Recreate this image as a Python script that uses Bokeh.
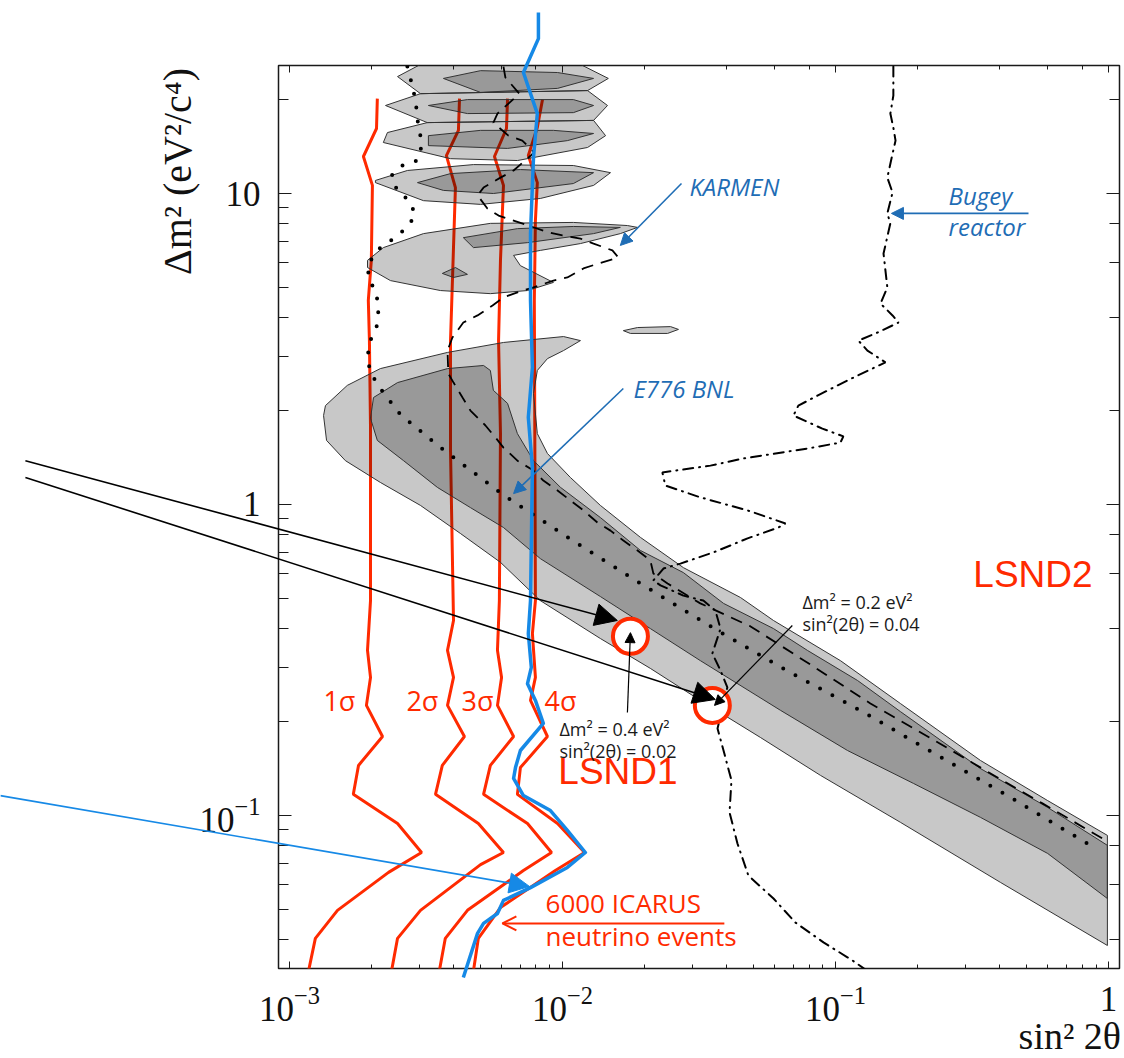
import numpy as np
from bokeh.plotting import figure
from bokeh.models import Range1d, LogAxis, LogTicker, Label, Arrow, NormalHead, OpenHead
from bokeh.embed import file_html
from bokeh.resources import INLINE

# ---------------- data: (log10 sin^2 2theta, log10 dm^2) -------------
sigma1 = [(-2.678, 1.305), (-2.681, 1.209), (-2.729, 1.119), (-2.696, 1.026), (-2.700, 0.785),
          (-2.711, 0.656), (-2.707, 0.527), (-2.703, 0.248), (-2.703, -0.309), (-2.714, -0.469),
          (-2.703, -0.556), (-2.718, -0.646), (-2.659, -0.746), (-2.747, -0.839), (-2.766, -0.932),
          (-2.604, -1.026), (-2.516, -1.119), (-2.637, -1.183), (-2.824, -1.305), (-2.905, -1.395),
          (-2.930, -1.50)]
sigma2 = [(-2.377, 1.305), (-2.381, 1.203), (-2.425, 1.122), (-2.392, 1.019), (-2.410, 0.527),
          (-2.410, 0.174), (-2.399, -0.373), (-2.421, -0.469), (-2.399, -0.556), (-2.421, -0.646),
          (-2.359, -0.746), (-2.440, -0.839), (-2.465, -0.932), (-2.308, -1.026), (-2.216, -1.119),
          (-2.300, -1.158), (-2.520, -1.305), (-2.604, -1.395), (-2.626, -1.50)]
sigma3 = [(-2.201, 1.305), (-2.205, 1.209), (-2.249, 1.119), (-2.216, 1.026), (-2.227, 0.785),
          (-2.234, 0.527), (-2.227, 0.228), (-2.231, -0.309), (-2.238, -0.469), (-2.223, -0.556),
          (-2.238, -0.646), (-2.179, -0.746), (-2.264, -0.839), (-2.289, -0.932), (-2.128, -1.026),
          (-2.040, -1.119), (-2.143, -1.177), (-2.348, -1.305), (-2.429, -1.395), (-2.451, -1.50)]
sigma4 = [(-2.073, 1.302), (-2.092, 1.212), (-2.125, 1.122), (-2.092, 1.035), (-2.099, 0.913),
          (-2.103, 0.656), (-2.099, -0.309), (-2.110, -0.415), (-2.099, -0.556), (-2.117, -0.630),
          (-2.055, -0.746), (-2.154, -0.846), (-2.165, -0.932), (-2.018, -1.026), (-1.919, -1.119),
          (-2.026, -1.177), (-2.227, -1.296), (-2.308, -1.395), (-2.326, -1.50)]
icarus_6000 = [(-2.088, 1.582), (-2.088, 1.498), (-2.143, 1.389), (-2.092, 1.257), (-2.106, 1.116),
               (-2.117, 0.871), (-2.117, 0.656), (-2.110, 0.441), (-2.125, 0.280), (-2.110, 0.119),
               (-2.117, -0.309), (-2.125, -0.415), (-2.114, -0.524), (-2.128, -0.576), (-2.099, -0.630),
               (-2.070, -0.704), (-2.154, -0.791), (-2.172, -0.846), (-2.179, -0.881), (-2.143, -0.936),
               (-2.044, -0.984), (-1.982, -1.048), (-1.916, -1.119), (-1.982, -1.167), (-2.117, -1.232),
               (-2.216, -1.273), (-2.238, -1.315), (-2.289, -1.347), (-2.311, -1.379), (-2.363, -1.521)]

lsnd90_main = [(-2.875, 0.286), (-2.868, 0.318), (-2.788, 0.383), (-2.667, 0.437), (-2.421, 0.489),
               (-2.216, 0.521), (-1.996, 0.540), (-1.934, 0.527), (-1.996, 0.495), (-2.055, 0.469),
               (-2.092, 0.431), (-2.106, 0.357), (-2.092, 0.228), (-2.055, 0.164), (-1.971, 0.087),
               (-1.861, -0.003), (-1.714, -0.106), (-1.557, -0.203), (-1.348, -0.299), (-1.227, -0.373),
               (-0.982, -0.502), (-0.762, -0.640), (-0.469, -0.823), (-0.223, -0.952), (-0.004, -1.064),
               (-0.004, -1.418), (-0.396, -1.215), (-0.762, -1.022), (-1.055, -0.871), (-1.275, -0.749),
               (-1.495, -0.630), (-1.678, -0.527), (-1.861, -0.431), (-2.081, -0.309), (-2.227, -0.186),
               (-2.374, -0.093), (-2.520, -0.003), (-2.667, 0.071), (-2.795, 0.141), (-2.864, 0.206)]
lsnd90_islands = [
    [(-2.604, 1.376), (-2.520, 1.415), (-1.934, 1.415), (-1.832, 1.370), (-1.908, 1.331), (-2.520, 1.321)],
    [(-2.520, 1.321), (-1.908, 1.331), (-1.835, 1.283), (-1.886, 1.235), (-2.495, 1.228), (-2.648, 1.283)],
    [(-2.495, 1.228), (-1.886, 1.235), (-1.842, 1.186), (-1.908, 1.148), (-2.165, 1.106), (-2.410, 1.112),
     (-2.656, 1.164), (-2.641, 1.196)],
    [(-2.685, 1.042), (-2.568, 1.074), (-2.326, 1.093), (-1.960, 1.090), (-1.824, 1.067), (-1.886, 1.026),
     (-2.081, 0.984), (-2.300, 0.965), (-2.509, 0.977), (-2.685, 1.035)],
    [(-2.714, 0.785), (-2.656, 0.826), (-2.509, 0.871), (-2.264, 0.904), (-1.960, 0.907), (-1.762, 0.897),
     (-1.725, 0.891), (-1.788, 0.871), (-1.934, 0.839), (-2.081, 0.817), (-2.179, 0.801), (-2.154, 0.768),
     (-2.033, 0.714), (-2.128, 0.688), (-2.264, 0.678), (-2.447, 0.688), (-2.630, 0.720), (-2.714, 0.762)],
    [(-1.777, 0.559), (-1.725, 0.569), (-1.604, 0.572), (-1.575, 0.563), (-1.615, 0.550), (-1.751, 0.550)],
]
lsnd99_main = [(-2.703, 0.277), (-2.692, 0.344), (-2.604, 0.392), (-2.421, 0.437), (-2.289, 0.447),
               (-2.264, 0.431), (-2.253, 0.367), (-2.201, 0.325), (-2.165, 0.228), (-2.106, 0.141),
               (-2.007, 0.055), (-1.861, -0.042), (-1.714, -0.148), (-1.557, -0.219), (-1.410, -0.318),
               (-1.227, -0.399), (-1.103, -0.469), (-0.919, -0.566), (-0.762, -0.666), (-0.469, -0.849),
               (-0.223, -0.974), (-0.004, -1.096), (-0.004, -1.267), (-0.223, -1.122), (-0.469, -1.006),
               (-0.714, -0.897), (-0.956, -0.791), (-1.201, -0.662), (-1.495, -0.502), (-1.678, -0.399),
               (-1.861, -0.296), (-2.081, -0.174), (-2.216, -0.074), (-2.337, -0.010), (-2.458, 0.055),
               (-2.582, 0.141), (-2.678, 0.206)]
lsnd99_islands = [
    [(-2.436, 1.370), (-2.300, 1.395), (-2.018, 1.389), (-1.886, 1.370), (-2.018, 1.338), (-2.300, 1.325)],
    [(-2.491, 1.283), (-2.348, 1.302), (-1.960, 1.302), (-1.886, 1.283), (-1.960, 1.260), (-2.348, 1.257)],
    [(-2.491, 1.186), (-2.300, 1.203), (-2.033, 1.203), (-1.886, 1.193), (-1.982, 1.170), (-2.201, 1.145),
     (-2.491, 1.154)],
    [(-2.531, 1.035), (-2.410, 1.064), (-2.154, 1.077), (-1.886, 1.067), (-1.960, 1.032), (-2.253, 1.000),
     (-2.436, 1.010)],
    [(-2.363, 0.858), (-2.165, 0.887), (-1.960, 0.894), (-1.788, 0.891), (-1.886, 0.871), (-2.128, 0.842),
     (-2.326, 0.826)],
    [(-2.440, 0.743), (-2.392, 0.762), (-2.348, 0.740), (-2.399, 0.730)],
]
dotted_limit = [(-2.568, 1.408), (-2.553, 1.357), (-2.538, 1.299), (-2.527, 1.209), (-2.513, 1.161),
                (-2.531, 1.106), (-2.586, 1.090), (-2.626, 1.058), (-2.604, 1.006), (-2.560, 0.977),
                (-2.538, 0.929), (-2.575, 0.887), (-2.619, 0.855), (-2.670, 0.823), (-2.711, 0.775),
                (-2.711, 0.730), (-2.681, 0.678), (-2.674, 0.624), (-2.681, 0.569), (-2.707, 0.521),
                (-2.714, 0.469), (-2.703, 0.424), (-2.670, 0.376), (-2.593, 0.289), (-2.451, 0.186),
                (-2.209, 0.026), (-1.952, -0.122), (-1.696, -0.264), (-1.432, -0.405), (-1.172, -0.537),
                (-0.901, -0.666), (-0.637, -0.801), (-0.370, -0.936), (-0.059, -1.100)]
karmen = [(-2.216, 1.408), (-2.209, 1.373), (-2.158, 1.321), (-2.238, 1.257), (-2.253, 1.228),
          (-2.198, 1.186), (-2.147, 1.170), (-2.103, 1.132), (-2.179, 1.074), (-2.227, 1.051),
          (-2.289, 1.019), (-2.311, 0.994), (-2.275, 0.952), (-2.234, 0.929), (-2.051, 0.875),
          (-2.000, 0.865), (-1.934, 0.855), (-1.886, 0.839), (-1.817, 0.817), (-1.795, 0.794),
          (-1.868, 0.775), (-1.923, 0.759), (-1.982, 0.730), (-2.033, 0.720), (-2.117, 0.695),
          (-2.147, 0.688), (-2.216, 0.666), (-2.256, 0.640), (-2.311, 0.608), (-2.363, 0.585),
          (-2.403, 0.537), (-2.421, 0.495), (-2.418, 0.421), (-2.399, 0.392), (-2.366, 0.344),
          (-2.337, 0.302), (-2.282, 0.254), (-2.245, 0.215), (-2.216, 0.183), (-2.165, 0.141),
          (-2.106, 0.109), (-2.070, 0.077), (-2.018, 0.045), (-1.971, 0.013), (-1.923, -0.019),
          (-1.872, -0.058), (-1.824, -0.084), (-1.777, -0.116), (-1.725, -0.148), (-1.678, -0.180),
          (-1.667, -0.222), (-1.615, -0.254), (-1.495, -0.318), (-1.311, -0.392), (-1.070, -0.527),
          (-0.872, -0.640), (-0.656, -0.749), (-0.451, -0.855), (-0.242, -0.961), (-0.022, -1.074)]
bugey = [(-0.788, 1.408), (-0.788, 1.315), (-0.799, 1.257), (-0.788, 1.212), (-0.780, 1.170),
         (-0.795, 1.112), (-0.810, 1.051), (-0.791, 1.003), (-0.810, 0.936), (-0.799, 0.904),
         (-0.824, 0.807), (-0.810, 0.698), (-0.835, 0.646), (-0.791, 0.608), (-0.769, 0.585),
         (-0.846, 0.553), (-0.916, 0.527), (-0.883, 0.495), (-0.817, 0.457), (-0.956, 0.399),
         (-1.066, 0.350), (-1.136, 0.318), (-1.154, 0.286), (-1.048, 0.244), (-0.971, 0.219),
         (-0.982, 0.199), (-1.103, 0.180), (-1.337, 0.148), (-1.458, 0.125), (-1.634, 0.103),
         (-1.623, 0.061), (-1.495, 0.023), (-1.322, -0.019), (-1.183, -0.061), (-1.209, -0.074),
         (-1.322, -0.109), (-1.447, -0.154), (-1.568, -0.190), (-1.630, -0.206), (-1.667, -0.244),
         (-1.641, -0.260), (-1.557, -0.293), (-1.484, -0.309), (-1.440, -0.341), (-1.421, -0.399),
         (-1.451, -0.479), (-1.421, -0.534), (-1.396, -0.588), (-1.432, -0.720), (-1.410, -0.791),
         (-1.381, -0.887), (-1.388, -0.990), (-1.359, -1.090), (-1.319, -1.193), (-1.227, -1.267),
         (-1.147, -1.344), (-1.044, -1.408), (-0.938, -1.466), (-0.886, -1.498)]
lsnd_points = [(-1.751, -0.424), (-1.451, -0.646)]   # LSND1, LSND2 test points
x_tick_overrides = {1: "1"}
y_tick_overrides = {1: "1", 10: "10"}

# ---------------- styles / geometry ----------------
RED = "#ff2a00"
BLUE_LINE = "#1689e6"
BLUE_TXT = "#1f6db5"
SANS = "Open Sans"
SERIF = "Liberation Serif"
W, H = 1122, 1058
FL, FR, FT, FB = 278, 1119, 65, 968          # frame box on the canvas
LX0, LX1, LY0, LY1 = -3.040, 0.0403, -1.492, 1.4116   # log10 ranges of the frame
PPX = (FR - FL) / (LX1 - LX0)
PPY = (FB - FT) / (LY1 - LY0)


def xy(pairs):
    a = np.array(pairs, dtype=float)
    return 10 ** a[:, 0], 10 ** a[:, 1]


def v(lx):
    return 10 ** lx


# ---------------- main chart (with axes) ----------------
p = figure(width=W, height=H, x_axis_type="log", y_axis_type="log",
           x_range=Range1d(v(LX0), v(LX1)), y_range=Range1d(v(LY0), v(LY1)),
           output_backend="svg", toolbar_location=None,
           min_border_left=FL, min_border_right=W - FR, min_border_top=FT, min_border_bottom=H - FB)
p.grid.visible = False
p.background_fill_color = "white"
p.border_fill_color = "white"
p.outline_line_color = "#1a1a1a"
p.outline_line_width = 1.5

for ax, long_tick in ((p.xaxis[0], False), (p.yaxis[0], True)):
    ax.major_tick_out = 0
    ax.minor_tick_out = 0
    ax.major_tick_in = 13 if long_tick else 7
    ax.minor_tick_in = 10 if long_tick else 4
    ax.axis_line_color = None
    ax.major_tick_line_color = "#1a1a1a"
    ax.minor_tick_line_color = "#1a1a1a"
    ax.major_label_text_font = SERIF
    ax.major_label_text_font_size = "35px"
    ax.major_label_text_color = "#111111"
p.xaxis[0].major_label_standoff = 18
p.yaxis[0].major_label_standoff = 18
p.xaxis[0].major_label_overrides = x_tick_overrides
p.yaxis[0].major_label_overrides = y_tick_overrides

for loc, long_tick in (("above", False), ("right", True)):
    ax = LogAxis(ticker=LogTicker(), major_tick_out=0, minor_tick_out=0,
                 major_tick_in=13 if long_tick else 7, minor_tick_in=10 if long_tick else 4,
                 axis_line_color=None, major_label_text_font_size="1px", major_label_text_alpha=0,
                 major_label_standoff=0,
                 major_tick_line_color="#1a1a1a", minor_tick_line_color="#1a1a1a")
    p.add_layout(ax, loc)

# red sensitivity lines (under the shaded regions)
for s in (sigma1, sigma2, sigma3, sigma4):
    x, y = xy(s)
    p.line(x, y, line_color=RED, line_width=3)

# LSND allowed regions (semi-transparent so lines beneath darken)
light = [lsnd90_main] + lsnd90_islands
dark = [lsnd99_main] + lsnd99_islands
p.patches([list(xy(s)[0]) for s in light], [list(xy(s)[1]) for s in light],
          fill_color="black", fill_alpha=0.215, line_color="#333333", line_width=1)
p.patches([list(xy(s)[0]) for s in dark], [list(xy(s)[1]) for s in dark],
          fill_color="black", fill_alpha=0.235, line_color="#333333", line_width=1)

x, y = xy(dotted_limit)
p.line(x, y, line_color="black", line_width=4, line_dash="0 14", line_cap="round")
x, y = xy(karmen)
p.line(x, y, line_color="black", line_width=1.8, line_dash="12 8")
x, y = xy(bugey)
p.line(x, y, line_color="black", line_width=2, line_dash="10 6 1 6", line_cap="round")

x, y = xy(lsnd_points)
p.scatter(x, y, size=35, marker="circle", fill_color="white", line_color=RED, line_width=4)

# ---------------- transparent overlay sharing the same scales, covering the whole canvas ----------------
q = figure(width=W, height=H, x_axis_type="log", y_axis_type="log",
           x_axis_location=None, y_axis_location=None,
           x_range=Range1d(v(LX0 - FL / PPX), v(LX1 + (W - FR) / PPX)),
           y_range=Range1d(v(LY0 - (H - FB) / PPY), v(LY1 + FT / PPY)),
           output_backend="svg", toolbar_location=None, min_border=0,
           background_fill_color=None, border_fill_color=None, outline_line_color=None)
q.grid.visible = False
q.styles = {"position": "absolute", "left": "0px", "top": "0px"}

x, y = xy(icarus_6000)
q.line(x, y, line_color=BLUE_LINE, line_width=3.5, line_join="round")


def label(fig, text, lx, ly, size, color, font=SANS, align="left", style="normal", angle=0.0):
    # ly is the baseline; shift to compensate the renderer's baseline placement
    if angle == 0.0:
        ly = ly + 0.37 * size / PPY
    else:
        lx = lx - 0.37 * size / PPX
    fig.add_layout(Label(x=v(lx), y=v(ly), text=text, text_font=font, text_font_size=f"{size}px",
                         text_color=color, text_align=align, text_baseline="alphabetic",
                         text_font_style=style, angle=angle))


def arrow(fig, x0, y0, x1, y1, color, width, head):
    fig.add_layout(Arrow(end=head, x_start=v(x0), y_start=v(y0), x_end=v(x1), y_end=v(y1),
                         line_color=color, line_width=width))


for t, lx in (("1σ", -2.817), ("2σ", -2.513), ("3σ", -2.311), ("4σ", -2.007)):
    label(p, t, lx, -0.662, 27, RED, align="center")

label(p, "LSND1", -2.015, -0.904, 37, RED, font="Liberation Sans")
label(p, "LSND2", -0.495, -0.270, 37, RED, font="Liberation Sans")
label(p, "Δm² = 0.4 eV²", -2.011, -0.743, 18, "#1a1a1a")
label(p, "sin²(2θ) = 0.02", -2.011, -0.813, 18, "#1a1a1a")
label(p, "Δm² = 0.2 eV²", -1.121, -0.334, 18, "#1a1a1a")
label(p, "sin²(2θ) = 0.04", -1.121, -0.405, 18, "#1a1a1a")
label(p, "6000 ICARUS", -2.062, -1.312, 26, RED)
label(p, "neutrino events", -2.062, -1.418, 26, RED)
label(p, "KARMEN", -1.535, 0.994, 24, BLUE_TXT, style="italic")
label(p, "Bugey", -0.586, 0.965, 24, BLUE_TXT, style="italic")
label(p, "reactor", -0.586, 0.865, 24, BLUE_TXT, style="italic")
label(p, "E776 BNL", -1.740, 0.344, 24, BLUE_TXT, style="italic")
label(q, "Δm² (eV²/c⁴)", -3.355, 1.071, 40, "#111111", font=SERIF, align="center", angle=np.pi / 2)
label(q, "sin² 2θ", 0.046, -1.755, 38, "#111111", font=SERIF, align="right")

arrow(p, -1.407, -1.347, -2.220, -1.347, RED, 2, OpenHead(size=14, line_color=RED, line_width=2))
arrow(p, -1.564, 1.032, -1.788, 0.833, BLUE_TXT, 1.6, NormalHead(size=12, fill_color=BLUE_TXT, line_color=BLUE_TXT))
arrow(p, -0.293, 0.936, -0.795, 0.936, BLUE_TXT, 1.6, NormalHead(size=12, fill_color=BLUE_TXT, line_color=BLUE_TXT))
arrow(p, -1.777, 0.373, -2.179, 0.035, BLUE_TXT, 1.6, NormalHead(size=12, fill_color=BLUE_TXT, line_color=BLUE_TXT))
arrow(p, -1.762, -0.669, -1.751, -0.412, "black", 1.2, NormalHead(size=10, fill_color="black", line_color="black"))
arrow(p, -1.158, -0.389, -1.443, -0.646, "black", 1.2, NormalHead(size=10, fill_color="black", line_color="black"))
arrow(q, -3.967, 0.141, -1.799, -0.373, "black", 1.6, NormalHead(size=22, fill_color="black", line_color="black"))
arrow(q, -3.967, 0.087, -1.440, -0.627, "black", 1.6, NormalHead(size=22, fill_color="black", line_color="black"))
arrow(q, -4.059, -0.936, -2.121, -1.228, BLUE_LINE, 1.6, NormalHead(size=20, fill_color=BLUE_LINE, line_color=BLUE_LINE))

open("out.html", "w").write(file_html([p, q], INLINE, title="LSND ICARUS"))
